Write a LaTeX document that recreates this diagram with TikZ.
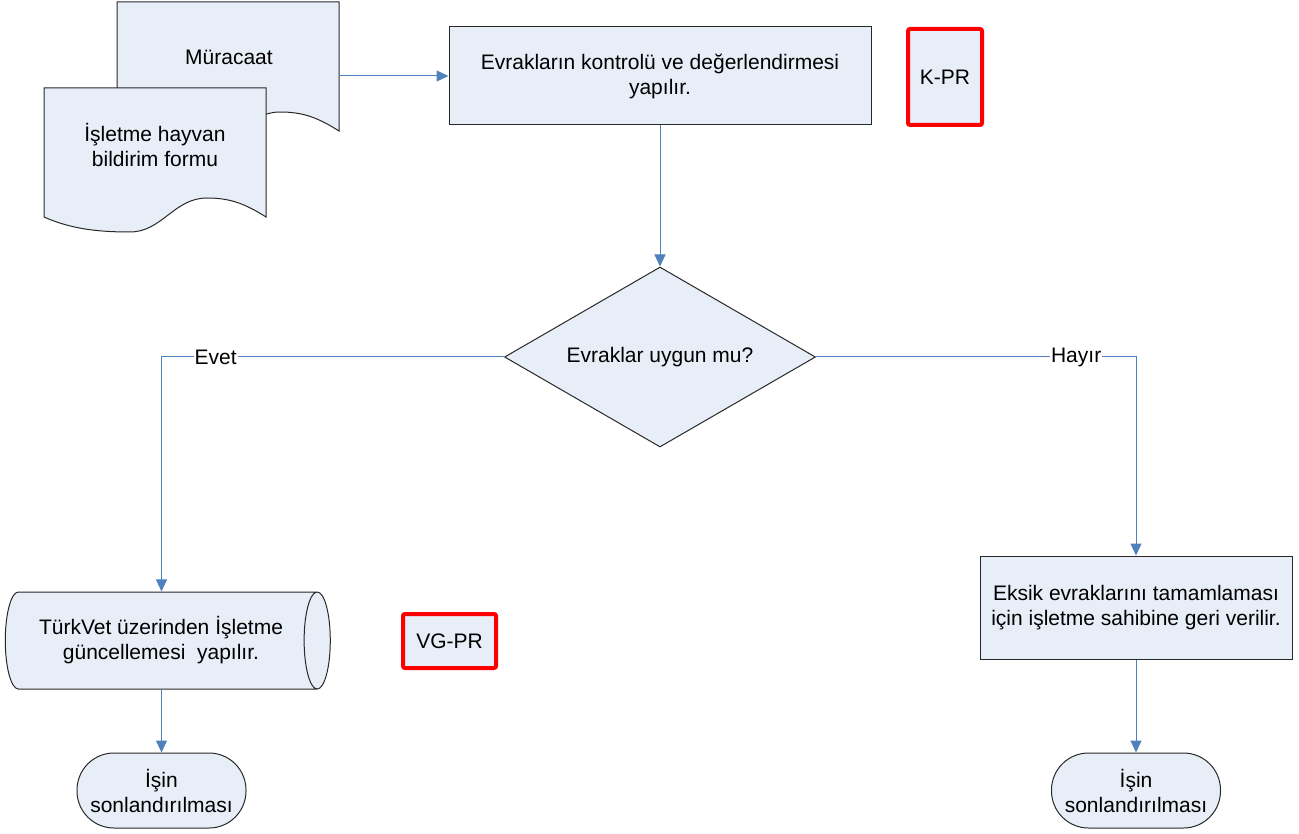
\documentclass[tikz,border=0pt]{standalone}
\usepackage{fontspec}
\setmainfont{Liberation Sans}
\usetikzlibrary{shapes.geometric,arrows.meta}

\definecolor{boxfill}{RGB}{232,238,248}
\definecolor{flowline}{RGB}{79,129,189}
\definecolor{boxline}{RGB}{40,40,40}

\tikzset{
  every node/.style={font=\fontsize{21}{25}\selectfont},
  box/.style={draw=boxline, fill=boxfill, line width=1pt, align=center, inner sep=0pt},
  refbox/.style={draw=red, fill=boxfill, line width=4pt, rounded corners=2pt, inner sep=0pt},
  decision/.style={box, diamond, aspect=1.73, minimum width=311pt, minimum height=180pt},
  store/.style={box, cylinder, aspect=0.55, minimum width=97pt, minimum height=325pt},
  term/.style={box, rounded corners=37pt, minimum width=169pt, minimum height=75pt},
  flow/.style={draw=flowline, line width=1pt, -{Triangle[length=12pt,width=11pt]}},
  lbl/.style={fill=white, inner sep=1pt}
}

\newcommand\docpath{(0,0) -- (222,0) -- (222,129) .. controls (200,115) and (185,110) .. (163,110)
  .. controls (130,110) and (118,144) .. (86,144) .. controls (50,144) and (25,140) .. (0,129) -- cycle}

\begin{document}
\begin{tikzpicture}[x=1pt, y=-1pt]

    \useasboundingbox (0,0) rectangle (1299,834);

    % documents
    \begin{scope}[shift={(117,2)}]
      \draw [box] \docpath;
    \end{scope}
    \node (mur) at (229,57) {Müracaat};
    \coordinate (murout) at (339,76);
    \begin{scope}[shift={(44,88)}]
      \draw [box] \docpath;
    \end{scope}
    \node (frm) [align=center] at (155,145) {İşletme hayvan\\bildirim formu};

    % process
    \node (proc) [box, minimum width=422pt, minimum height=98pt] at (660,76)
        {Evrakların kontrolü ve değerlendirmesi\\yapılır.};
    \node (kpr) [refbox, minimum width=74pt, minimum height=96pt] at (945,77) {K-PR};

    % decision
    \node (dec) [decision] at (660,357) {Evraklar uygun mu?};

    % branches
    \node (upd) [store] at (161,640.5) {TürkVet üzerinden İşletme\\güncellemesi\ \ yapılır.};
    \node (vgpr) [refbox, minimum width=93pt, minimum height=54pt] at (449.5,641) {VG-PR};
    \node (ret) [box, minimum width=312pt, minimum height=103pt] at (1136,607.5)
        {Eksik evraklarını tamamlaması\\için işletme sahibine geri verilir.};

    % ends
    \node (endl) [term] at (161.5,790.5) {İşin\\sonlandırılması};
    \node (endr) [term] at (1136,790.5) {İşin\\sonlandırılması};

    % arrows
    \draw [flow] (murout) -- (proc.west);
    \draw [flow] (proc.south) -- (dec.north);
    \draw [flow] (dec.west) -- node [lbl, pos=.842] {Evet} (dec.west -| endl.north) -- (endl.north |- upd.north);
    \draw [flow] (dec.east) -- node [lbl, pos=.813] {Hayır} (dec.east -| ret.north) -- (ret.north);
    \draw [flow] (endl.north |- upd.south) -- (endl.north);
    \draw [flow] (ret.south) -- (endr.north);

\end{tikzpicture}
\end{document}
